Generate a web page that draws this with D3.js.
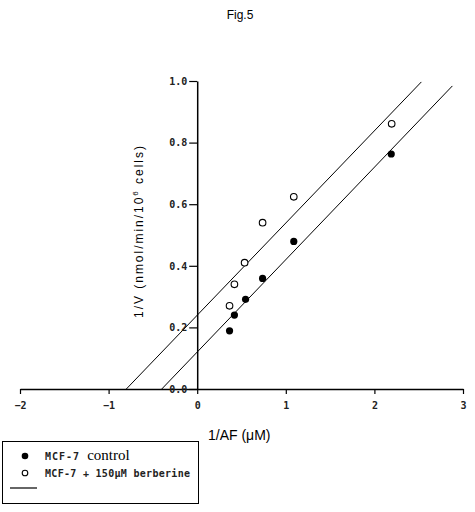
<!DOCTYPE html>
<html><head><meta charset="utf-8">
<script src="https://cdn.jsdelivr.net/npm/d3@7"></script>
<style>body{margin:0;background:#fff}svg{display:block}</style>
</head><body>
<script>
const xTicks = [-2, -1, 0, 1, 2, 3];
const yTicks = [0.0, 0.2, 0.4, 0.6, 0.8, 1.0];
const controlX = [0.365, 0.42, 0.546, 0.738, 1.09, 2.19];
const controlY = [0.189, 0.24, 0.291, 0.359, 0.479, 0.763];
const berberineX = [0.365, 0.42, 0.535, 0.738, 1.09, 2.195];
const berberineY = [0.27, 0.34, 0.41, 0.54, 0.624, 0.861];
const lineControl = [[-0.4, 0.0], [2.88, 0.984]];
const lineBerberine = [[-0.8, 0.0], [2.53, 0.997]];
const legendLabels = ["MCF-7 ", "MCF-7 + 150\u03bcM berberine"];

const W = 475, H = 512;
const svg = d3.select("body").append("svg").attr("width", W).attr("height", H);
const x = d3.scaleLinear().domain([-2, 3]).range([20, 463]);
const y = d3.scaleLinear().domain([0, 1]).range([389, 81]);

svg.append("text").attr("x", 240).attr("y", 19).attr("text-anchor", "middle")
  .attr("font-family", "Liberation Sans, Arial").attr("font-size", 12).text("Fig.5");

// lines
const lg = d3.line().x(d => x(d[0])).y(d => y(d[1]));
[lineControl, lineBerberine].forEach(l => {
  svg.append("path").attr("d", lg(l)).attr("fill", "none").attr("stroke", "#000").attr("stroke-width", 1);
});

// axes
const xAxis = svg.append("g").attr("transform", "translate(0,389)")
  .call(d3.axisBottom(x).tickValues(xTicks).tickFormat(d3.format("d")).tickSize(5).tickSizeOuter(0));
const yAxis = svg.append("g").attr("transform", "translate(" + x(0) + ",0)")
  .call(d3.axisLeft(y).tickValues(yTicks).tickFormat(d3.format(".1f")).tickSize(8).tickSizeOuter(0));
[xAxis, yAxis].forEach(a => {
  a.select(".domain").attr("stroke", "#000").attr("stroke-width", 1.5);
  a.selectAll(".tick line").attr("stroke", "#000").attr("stroke-width", 1.2);
  a.selectAll("text").attr("font-family", "DejaVu Sans Mono, monospace").attr("font-size", 10).attr("font-weight", "bold").attr("fill", "#222");
});
xAxis.selectAll("text").attr("dy", "1.2em");
yAxis.selectAll("text").attr("x", -10);

// points
const ctrl = controlX.map((v, i) => [v, controlY[i]]);
const ber = berberineX.map((v, i) => [v, berberineY[i]]);
svg.append("g").selectAll("circle").data(ctrl).join("circle")
  .attr("cx", d => x(d[0])).attr("cy", d => y(d[1])).attr("r", 3.6).attr("fill", "#000");
svg.append("g").selectAll("circle").data(ber).join("circle")
  .attr("cx", d => x(d[0])).attr("cy", d => y(d[1])).attr("r", 3.3).attr("fill", "#fff").attr("stroke", "#000").attr("stroke-width", 1.1);

// axis labels
svg.append("text").attr("x", 208).attr("y", 440)
  .attr("font-family", "Liberation Sans, Arial").attr("font-size", 14).text("1/AF (\u03bcM)");
const yl = svg.append("text").attr("transform", "translate(143,232) rotate(-90)").attr("text-anchor", "middle")
  .attr("font-family", "Liberation Sans, Arial").attr("font-size", 12)
  .attr("textLength", 172).attr("lengthAdjust", "spacing");
yl.append("tspan").text("1/V (nmol/min/10");
yl.append("tspan").attr("font-size", 8).attr("dy", -5).text("6");
yl.append("tspan").attr("dy", 5).text(" cells)");

// legend
svg.append("rect").attr("x", 2.5).attr("y", 441.5).attr("width", 196).attr("height", 62)
  .attr("fill", "none").attr("stroke", "#000").attr("stroke-width", 1);
svg.append("circle").attr("cx", 25).attr("cy", 456).attr("r", 3.3).attr("fill", "#000");
svg.append("circle").attr("cx", 25).attr("cy", 473).attr("r", 2.8).attr("fill", "#fff").attr("stroke", "#000").attr("stroke-width", 1.1);
const t1 = svg.append("text").attr("x", 45).attr("y", 460).attr("font-family", "DejaVu Sans Mono, monospace").attr("font-size", 10).attr("font-weight", "bold").attr("fill", "#222");
t1.append("tspan").attr("letter-spacing", 1).text(legendLabels[0]);
t1.append("tspan").attr("font-family", "Liberation Serif, Times New Roman").attr("font-size", 15).attr("font-weight", "normal").attr("fill", "#000").text("control");
svg.append("text").attr("x", 45).attr("y", 477).attr("font-family", "DejaVu Sans Mono, monospace").attr("font-size", 10).attr("font-weight", "bold").attr("fill", "#222")
  .attr("textLength", 145).attr("lengthAdjust", "spacing").text(legendLabels[1]);
svg.append("line").attr("x1", 10).attr("x2", 37).attr("y1", 488).attr("y2", 488).attr("stroke", "#000").attr("stroke-width", 1.2);
</script>
</body></html>
